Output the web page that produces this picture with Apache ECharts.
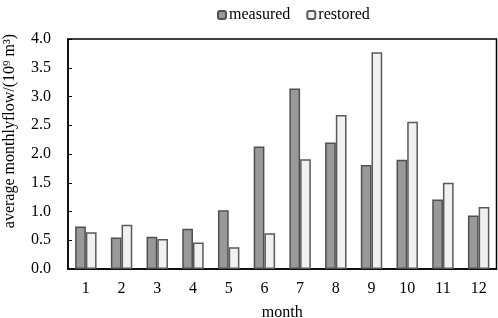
<!DOCTYPE html>
<html><head><meta charset="utf-8">
<script src="https://cdn.jsdelivr.net/npm/echarts@6/dist/echarts.min.js"></script>
<style>html,body{margin:0;padding:0;background:#fff}#c{width:498px;height:318px}</style>
</head><body><div id="c"></div>
<script>
const months = ['1','2','3','4','5','6','7','8','9','10','11','12'];
const measured = [0.74, 0.55, 0.56, 0.70, 1.02, 2.13, 3.14, 2.20, 1.81, 1.90, 1.21, 0.93];
const restored = [0.64, 0.77, 0.52, 0.46, 0.38, 0.62, 1.91, 2.68, 3.77, 2.56, 1.50, 1.08];
const yTicks = { min: 0, max: 4, interval: 0.5 };
const FONT = 'Liberation Serif';
const chart = echarts.init(document.getElementById('c'));
chart.setOption({
  animation: false,
  textStyle: { fontFamily: FONT, color: '#000' },
  grid: { left: 68, right: 1.5, top: 39, bottom: 49, outerBoundsMode: 'none', containLabel: false,
    show: true, borderColor: '#000', borderWidth: 1.5, backgroundColor: 'transparent' },
  legend: {
    left: 212, top: 2, itemWidth: 8, itemHeight: 8, itemGap: 16,
    textStyle: { fontFamily: FONT, fontSize: 16, color: '#000', padding: [0,0,0,-2] },
    data: ['measured', 'restored']
  },
  xAxis: {
    type: 'category', data: months,
    name: 'month', nameLocation: 'middle', nameGap: 36,
    nameTextStyle: { fontFamily: FONT, fontSize: 16, color: '#000' },
    axisLine: { lineStyle: { color: '#000', width: 1.5 } },
    axisTick: { inside: true, length: 4, lineStyle: { color: '#000' } },
    axisLabel: { fontFamily: FONT, fontSize: 16, color: '#000', margin: 12 }
  },
  yAxis: {
    type: 'value', min: yTicks.min, max: yTicks.max, interval: yTicks.interval,
    splitLine: { show: false },
    axisLine: { show: true, lineStyle: { color: '#000', width: 1.5 } },
    axisTick: { show: true, inside: true, length: 4, lineStyle: { color: '#000' } },
    axisLabel: { fontFamily: FONT, fontSize: 16, color: '#000', margin: 17, formatter: v => v.toFixed(1) }
  },
  graphic: [{
    type: 'text', x: 10, y: 131, rotation: Math.PI / 2,
    style: { text: 'average monthlyflow/(10⁹ m³)', fontFamily: FONT, fontSize: 16, fill: '#000', align: 'center', verticalAlign: 'middle' }
  }],
  series: [
    { name: 'measured', type: 'bar', data: measured, barWidth: '30%', barGap: '0%',
      itemStyle: { color: '#999999', borderColor: '#505050', borderWidth: 1.5 } },
    { name: 'restored', type: 'bar', data: restored, barWidth: '30%', barGap: '0%',
      itemStyle: { color: '#f1f1f1', borderColor: '#5a5a5a', borderWidth: 1.5 } }
  ]
});
</script></body></html>
